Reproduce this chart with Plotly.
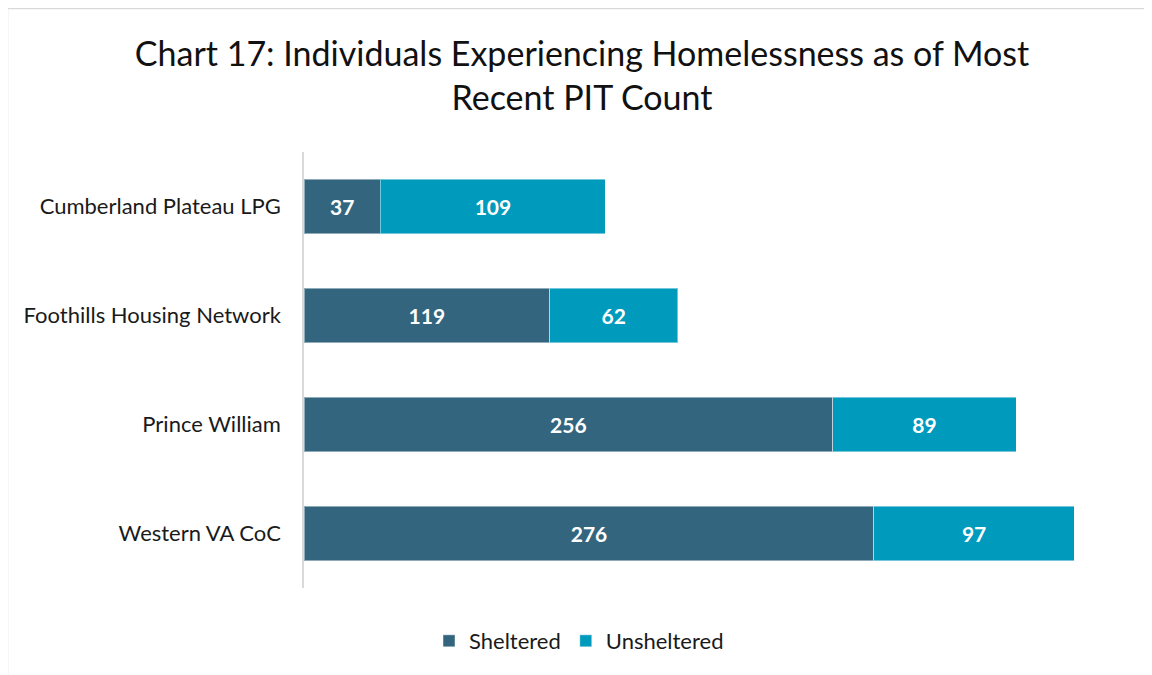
import plotly.graph_objects as go

categories = ["Cumberland Plateau LPG", "Foothills Housing Network", "Prince William", "Western VA CoC"]
sheltered = [37, 119, 256, 276]
unsheltered = [109, 62, 89, 97]
series_names = ["Sheltered", "Unsheltered"]
colors = ["#34657F", "#009ABD"]

FONT = "Lato"
OFF = 8  # page body margin offset
W, H = 1152 - OFF, 675 - OFF
PL, PR, PT, PB = 304, 1130, 152, 588  # plot area in page pixels
L, R, T, B = PL - OFF, W - (PR - OFF), PT - OFF, H - (PB - OFF)
pw, ph = W - L - R, H - T - B

def px_x(x):
    return (x - OFF - L) / pw

def px_y(y):
    return (H - B - (y - OFF)) / ph

fig = go.Figure()
for name, vals, col in zip(series_names, [sheltered, unsheltered], colors):
    fig.add_trace(go.Bar(
        y=categories, x=vals, name=name, orientation="h",
        marker=dict(color=col, line=dict(color="rgba(255,255,255,0.45)", width=1)),
        text=[str(v) for v in vals], textposition="inside", insidetextanchor="middle",
        textfont=dict(family=FONT, size=21, color="white", weight="bold"),
        width=0.5,
    ))

border = dict(color="#d9d9d9", width=1.5)
fig.update_layout(
    width=W, height=H,
    barmode="stack",
    margin=dict(l=L, r=R, t=T, b=B),
    paper_bgcolor="white", plot_bgcolor="white",
    title=dict(text="Chart 17: Individuals Experiencing Homelessness as of Most<br>Recent PIT Count",
               x=(582 - OFF) / W, xanchor="center", y=1 - (66 - OFF) / H, yanchor="middle",
               font=dict(family=FONT, size=34, color="#111111"), automargin=False),
    xaxis=dict(range=[0, 400], showgrid=False, showticklabels=False, zeroline=False,
               showline=False, fixedrange=True),
    yaxis=dict(autorange="reversed", showgrid=False, showline=True, linecolor="#d9d9d9",
               linewidth=1.5, ticks="", ticklabelstandoff=17,
               tickfont=dict(family=FONT, size=22, color="#1a1a1a")),
    legend=dict(orientation="h", x=px_x(579), xanchor="center",
                y=px_y(641), yanchor="middle", itemwidth=30,
                font=dict(family=FONT, size=22, color="#1a1a1a"), traceorder="normal"),
    bargap=0.5,
    shapes=[
        dict(type="line", xref="paper", yref="paper",
             x0=px_x(7.5), x1=px_x(1400), y0=px_y(8.5), y1=px_y(8.5), line=border, layer="below"),
        dict(type="line", xref="paper", yref="paper",
             x0=px_x(7.5), x1=px_x(7.5), y0=px_y(8.5), y1=px_y(800), line=border, layer="below"),
    ],
)
fig.update_traces(cliponaxis=False)
fig.write_html("out.html")
